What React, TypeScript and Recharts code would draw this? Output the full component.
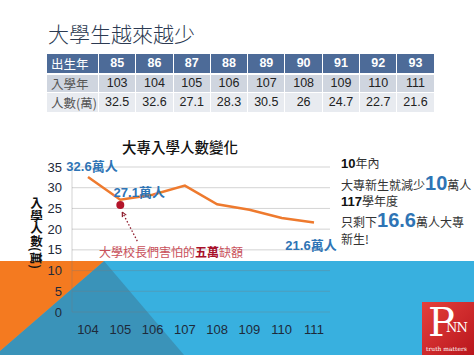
import React from "react";
import {
    LineChart, Line, XAxis, YAxis, CartesianGrid,
    LabelList, ReferenceDot,
} from "recharts";

// ─── Data ─────────────────────────────────────────────────────────────────────

const birthYears = ["85", "86", "87", "88", "89", "90", "91", "92", "93"];
const entryYears = ["103", "104", "105", "106", "107", "108", "109", "110", "111"];
const headcounts = ["32.5", "32.6", "27.1", "28.3", "30.5", "26", "24.7", "22.7", "21.6"];

const chartYears = ["104", "105", "106", "107", "108", "109", "110", "111"];
const chartValues = [32.6, 27.1, 28.3, 30.5, 26, 24.7, 22.7, 21.6];
const yTicks = [0, 5, 10, 15, 20, 25, 30, 35];
const gapDot = { year: "105", value: 25.8 };

const data = chartYears.map((year, i) => ({ year, value: chartValues[i] }));

// ─── Styles ───────────────────────────────────────────────────────────────────

const CJK = "'Noto Sans CJK TC', 'Noto Sans CJK SC', sans-serif";
const SANS = "'Liberation Sans', Arial, 'Noto Sans CJK TC', sans-serif";
const BLUE_TXT = "#2e74b5";
const GRID = "rgba(120,120,120,0.33)";

// label offsets from the point (index → [dx, dy])
const LABEL_OFFSETS: Record<number, [number, number]> = {
    0: [4, -10],
    1: [19, -7],
    7: [-3, 23],
};

function PointLabel(props: any) {
    const { x, y, index, value } = props;
    const off = LABEL_OFFSETS[index];
    if (!off) return null;
    return (
        <text
            x={x + off[0]}
            y={y + off[1]}
            textAnchor="middle"
            dominantBaseline="central"
            fill={BLUE_TXT}
            fontFamily={SANS}
            fontWeight="bold"
            fontSize={13}
        >
            {value}萬人
        </text>
    );
}

function GapMarker(props: any) {
    const { cx, cy } = props;
    const sx = cx + 17, sy = cy + 36;
    const tx = cx + 2, ty = cy + 7;
    const ang = Math.atan2(ty - sy, tx - sx);
    const h = 5;
    const a1 = ang + Math.PI - 0.45, a2 = ang + Math.PI + 0.45;
    return (
        <g>
            <line x1={sx} y1={sy} x2={tx} y2={ty} stroke="#8e1b2c" strokeWidth={1.3} strokeDasharray="1.5 2" />
            <line x1={tx} y1={ty} x2={tx + h * Math.cos(a1)} y2={ty + h * Math.sin(a1)} stroke="#8e1b2c" strokeWidth={1.2} />
            <line x1={tx} y1={ty} x2={tx + h * Math.cos(a2)} y2={ty + h * Math.sin(a2)} stroke="#8e1b2c" strokeWidth={1.2} />
            <circle cx={cx} cy={cy} r={4} fill="#b3142a" />
        </g>
    );
}

const TICK = { fill: "#1e2a3a", fontSize: 13, fontFamily: SANS };

// ─── Table ────────────────────────────────────────────────────────────────────

function DataTable() {
    const rows = [
        { label: "出生年", cells: birthYears, bg: "#4d6b98", color: "#fff", labelColor: "#fff", bold: true, h: 19 },
        { label: "入學年", cells: entryYears, bg: "#cfd5df", color: "#222", labelColor: "#555", bold: false, h: 17 },
        { label: "人數(萬)", cells: headcounts, bg: "#e8ebf0", color: "#222", labelColor: "#555", bold: false, h: 19 },
    ];
    return (
        <div
            style={{
                position: "absolute", left: 47, top: 54,
                display: "grid",
                gridTemplateColumns: "51px repeat(9, 36.3px)",
                gridAutoRows: "auto",
                columnGap: 1, rowGap: 1.5,
                background: "#fff",
            }}
        >
            {rows.map((r) => (
                <React.Fragment key={r.label}>
                    <div style={{
                        background: r.bg, color: r.labelColor, height: r.h, lineHeight: `${r.h}px`,
                        fontFamily: CJK, fontSize: 12.5, paddingLeft: 4,
                    }}>{r.label}</div>
                    {r.cells.map((c, i) => (
                        <div key={i} style={{
                            background: r.bg, color: r.color, height: r.h, lineHeight: `${r.h}px`,
                            textAlign: "center", fontFamily: SANS, fontSize: 12.5,
                            fontWeight: r.bold ? "bold" : "normal",
                        }}>{c}</div>
                    ))}
                </React.Fragment>
            ))}
        </div>
    );
}

// ─── App ──────────────────────────────────────────────────────────────────────

export default function App() {
    return (
        <div style={{ position: "absolute", left: 0, top: 0, width: 474, height: 355, overflow: "hidden", background: "#fff" }}>
            {/* slide background shapes */}
            <svg width={474} height={355} style={{ position: "absolute", left: 0, top: 0 }}>
                <rect x={0} y={261} width={474} height={94} fill="#38b0df" />
                <polygon points="104,261 184,355 0,355 0,351" fill="#3a93b9" />
                <polygon points="0,261 104,261 0,351" fill="#f47a20" />
            </svg>

            <div style={{
                position: "absolute", left: 48, top: 20, fontFamily: CJK, fontSize: 21,
                color: "#2c3a52", lineHeight: "26px", fontWeight: 300,
            }}>大學生越來越少</div>

            <DataTable />

            <div style={{
                position: "absolute", left: 100, top: 138, width: 160, textAlign: "center",
                fontFamily: CJK, fontSize: 14.5, fontWeight: 500, color: "#111", lineHeight: "18px",
            }}>大專入學人數變化</div>

            <div style={{ position: "absolute", left: 0, top: 130 }}>
                <LineChart
                    width={340}
                    height={225}
                    data={data}
                    margin={{ top: 37, right: 10, left: 32, bottom: 13 }}
                >
                    <CartesianGrid stroke={GRID} vertical={false} />
                    <XAxis
                        dataKey="year"
                        tick={TICK}
                        axisLine={false}
                        tickLine={false}
                        tickMargin={7}
                        height={30}
                        padding={{ left: 16, right: 16 }}
                    />
                    <YAxis
                        domain={[0, 35]}
                        ticks={yTicks}
                        tick={TICK}
                        axisLine={{ stroke: GRID }}
                        tickLine={false}
                        tickMargin={4}
                        width={40}
                        interval={0}
                    />
                    <Line
                        type="linear"
                        dataKey="value"
                        stroke="#ee7a2e"
                        strokeWidth={2.5}
                        dot={false}
                        isAnimationActive={false}
                    >
                        <LabelList dataKey="value" content={<PointLabel />} />
                    </Line>
                    <ReferenceDot x={gapDot.year} y={gapDot.value} shape={<GapMarker />} />
                </LineChart>
            </div>

            {/* y axis title */}
            <div style={{
                position: "absolute", left: 29, top: 197, writingMode: "vertical-rl",
                fontFamily: CJK, fontSize: 12.5, fontWeight: "bold", color: "#111", lineHeight: "14px",
            }}>
                入學人數<span style={{ textOrientation: "sideways" }}>(萬)</span>
            </div>

            {/* annotation */}
            <div style={{
                position: "absolute", left: 99, top: 244, fontFamily: CJK, fontSize: 12,
                color: "#c9505a", lineHeight: "16px", whiteSpace: "nowrap",
            }}>
                大學校長們害怕的<b style={{ color: "#a8102a" }}>五萬</b>缺額
            </div>

            {/* side notes */}
            <div style={{ position: "absolute", left: 341, top: 154, fontFamily: CJK, fontSize: 12, color: "#333", lineHeight: "18px", whiteSpace: "nowrap" }}>
                <b style={{ fontFamily: SANS, color: "#111", fontSize: 13 }}>10</b>年內
            </div>
            <div style={{ position: "absolute", left: 341, top: 172, fontFamily: CJK, fontSize: 12, color: "#333", lineHeight: "22px", whiteSpace: "nowrap" }}>
                大專新生就減少<b style={{ fontFamily: SANS, color: BLUE_TXT, fontSize: 20 }}>10</b>萬人
            </div>
            <div style={{ position: "absolute", left: 341, top: 192, fontFamily: CJK, fontSize: 12, color: "#333", lineHeight: "18px", whiteSpace: "nowrap" }}>
                <b style={{ fontFamily: SANS, color: "#111", fontSize: 13 }}>117</b>學年度
            </div>
            <div style={{ position: "absolute", left: 341, top: 209, fontFamily: CJK, fontSize: 12, color: "#333", lineHeight: "22px", whiteSpace: "nowrap" }}>
                只剩下<b style={{ fontFamily: SANS, color: BLUE_TXT, fontSize: 20 }}>16.6</b>萬人大專
            </div>
            <div style={{ position: "absolute", left: 341, top: 231, fontFamily: CJK, fontSize: 12, color: "#333", lineHeight: "16px", whiteSpace: "nowrap" }}>
                新生!
            </div>

            {/* logo */}
            <div style={{
                position: "absolute", left: 422, top: 302, width: 52, height: 53,
                background: "linear-gradient(135deg, #e5403c, #b9161d)", color: "#fff",
            }}>
                <div style={{ position: "absolute", left: 6, top: -2, fontFamily: "'DejaVu Serif', serif", fontSize: 40, lineHeight: "44px" }}>P</div>
                <div style={{ position: "absolute", left: 24, top: 18, fontFamily: "'DejaVu Serif', serif", fontSize: 13, lineHeight: "16px", letterSpacing: -1 }}>NN</div>
                <div style={{ position: "absolute", left: 4, top: 43, fontFamily: "'DejaVu Serif', serif", fontSize: 6, lineHeight: "8px", whiteSpace: "nowrap" }}>truth matters</div>
            </div>
        </div>
    );
}
